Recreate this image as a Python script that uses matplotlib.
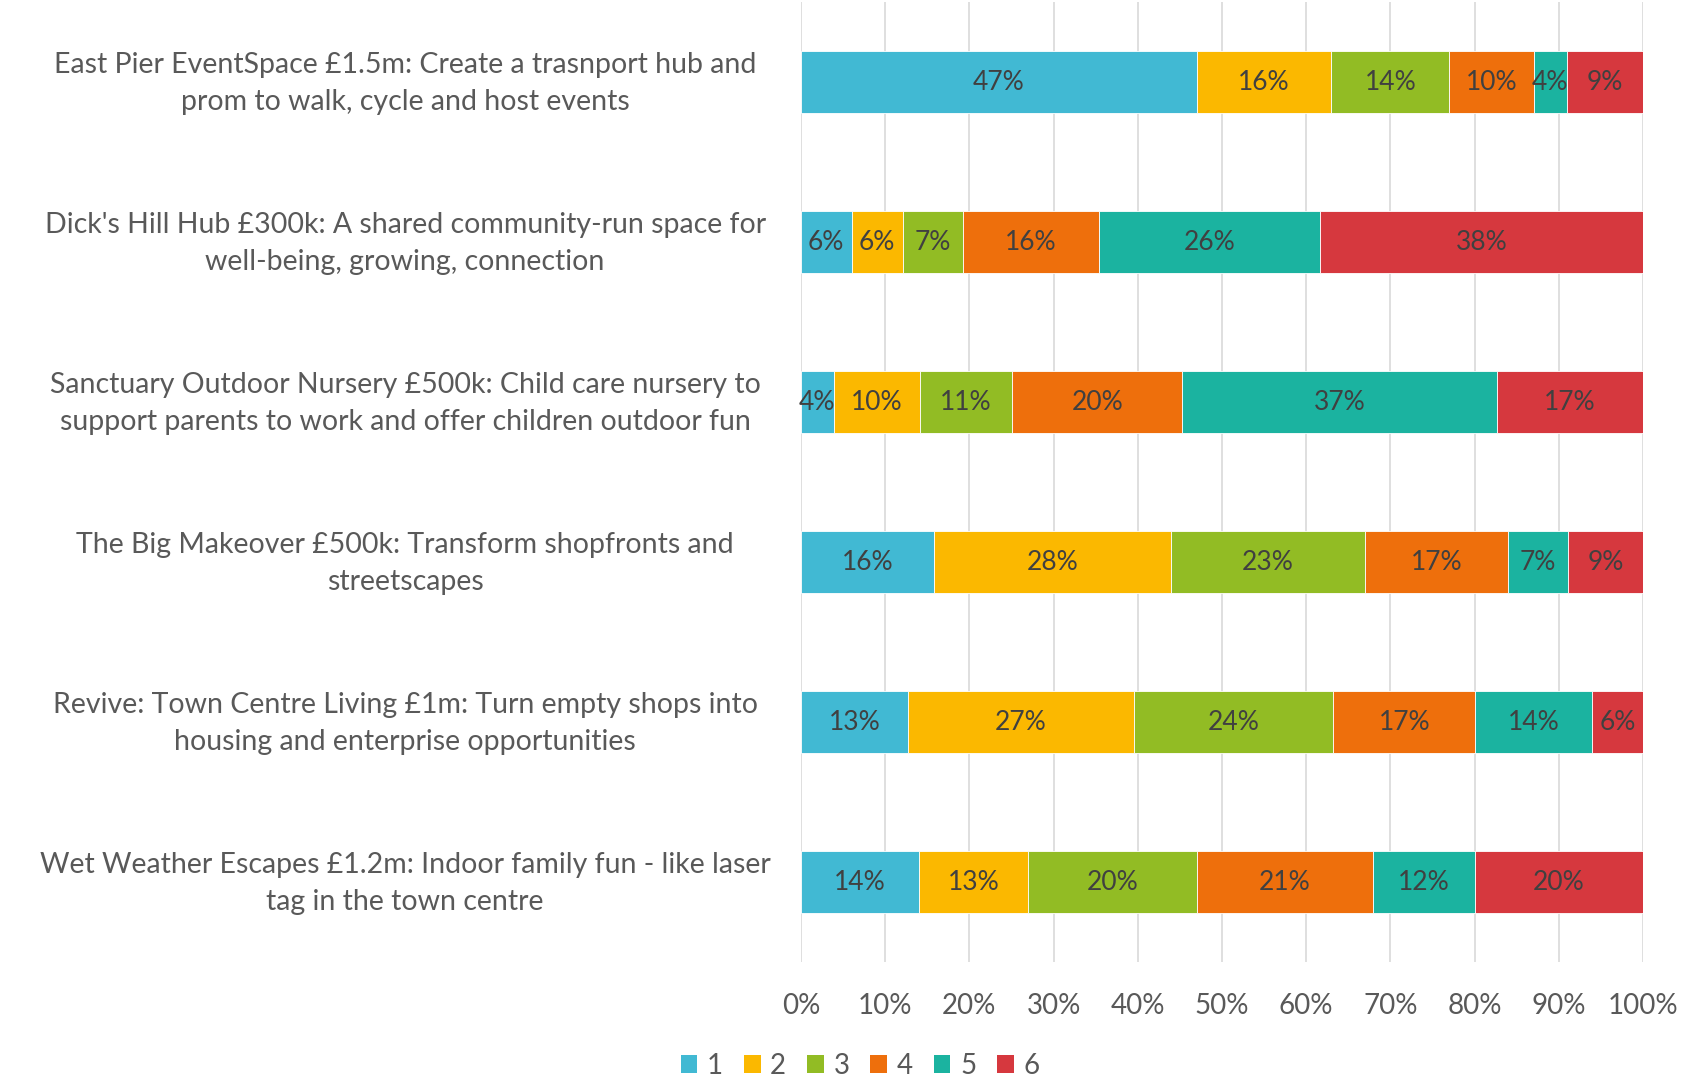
import numpy as np
import matplotlib
matplotlib.use("Agg")
import matplotlib.pyplot as plt
import matplotlib.transforms as mtransforms
from matplotlib.patches import Patch

plt.rcParams['font.family'] = ['Lato', 'DejaVu Sans']

# --- data ---
categories = [
    "East Pier EventSpace £1.5m: Create a trasnport hub and\nprom to walk, cycle and host events",
    "Dick's Hill Hub £300k: A shared community-run space for\nwell-being, growing, connection",
    "Sanctuary Outdoor Nursery £500k: Child care nursery to\nsupport parents to work and offer children outdoor fun",
    "The Big Makeover £500k: Transform shopfronts and\nstreetscapes",
    "Revive: Town Centre Living £1m: Turn empty shops into\nhousing and enterprise opportunities",
    "Wet Weather Escapes £1.2m: Indoor family fun - like laser\ntag in the town centre",
]
series_names = ["1", "2", "3", "4", "5", "6"]
s1 = [47.0, 6.0, 3.9, 15.8, 12.7, 14.0]
s2 = [16.0, 6.1, 10.2, 28.1, 26.8, 13.0]
s3 = [14.0, 7.1, 11.0, 23.0, 23.7, 20.1]
s4 = [10.0, 16.2, 20.2, 17.0, 16.9, 20.9]
s5 = [4.0, 26.2, 37.4, 7.1, 13.9, 12.1]
s6 = [9.0, 38.4, 17.3, 8.9, 6.0, 20.0]
colors = ["#41B9D3", "#FBB800", "#92BC24", "#EE6F0C", "#1BB3A0", "#D6383E"]

data = np.array([s1, s2, s3, s4, s5, s6])
share = data / data.sum(axis=0)  # 100% stacked

fig = plt.figure(figsize=(17.06, 10.81), dpi=100)
ax = fig.add_axes([801 / 1706, 1 - 962 / 1081, 842 / 1706, 960 / 1081])

y = np.arange(len(categories))
left = np.zeros(len(categories))
for i, name in enumerate(series_names):
    ax.barh(y, share[i], left=left, height=0.39, color=colors[i],
            edgecolor="white", linewidth=0.6, label=name, zorder=3)
    for j in range(len(categories)):
        ax.text(left[j] + share[i][j] / 2, y[j], f"{data[i][j]:.0f}%",
                ha="center", va="center", fontsize=19, color="#404040", zorder=4)
    left += share[i]

ax.set_xlim(0, 1)
ax.set_ylim(len(categories) - 0.5, -0.5)
ax.set_xticks(np.linspace(0, 1, 11))
ax.set_xticklabels([f"{v}%" for v in range(0, 101, 10)], fontsize=20, color="#595959")
ax.set_yticks(y)
ax.set_yticklabels(categories, fontsize=20.5, color="#595959", linespacing=1.5,
                   ha="center")
ax.tick_params(axis="y", length=0, pad=285)
ax.tick_params(axis="x", length=0, pad=22)
# nudge category labels up a touch so they sit centred on the bars
shift = mtransforms.ScaledTranslation(0, 6 / 100, fig.dpi_scale_trans)
for lab in ax.get_yticklabels():
    lab.set_transform(lab.get_transform() + shift)
ax.grid(axis="x", color="#D9D9D9", linewidth=1.2, zorder=0)
for s in ax.spines.values():
    s.set_visible(False)

handles = [Patch(facecolor=c, label=n) for c, n in zip(colors, series_names)]
fig.legend(handles=handles, loc="center", bbox_to_anchor=(860 / 1706, 1 - 1066 / 1081),
           ncol=6, frameon=False, fontsize=20, handlelength=0.6, handleheight=0.6,
           handletextpad=0.35, columnspacing=0.75, labelcolor="#595959")

fig.savefig("out.png", dpi=100)
